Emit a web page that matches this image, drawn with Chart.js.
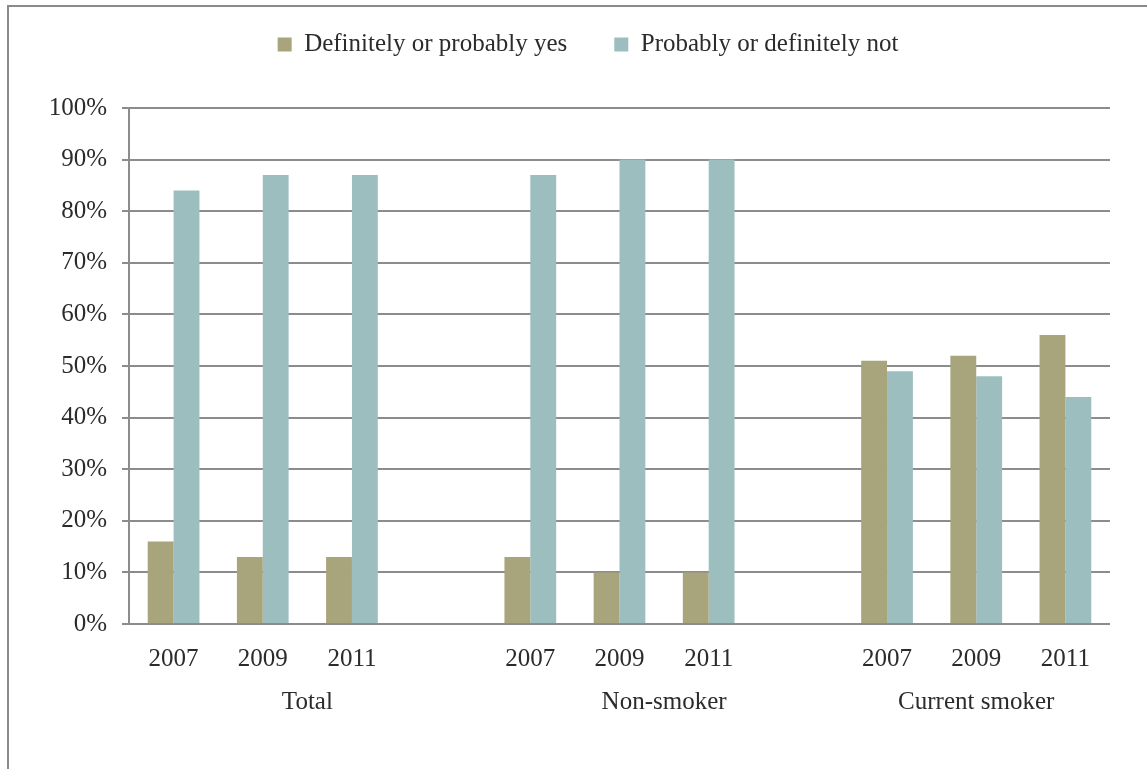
<!DOCTYPE html>
<html>
<head>
<meta charset="utf-8">
<script src="https://cdn.jsdelivr.net/npm/chart.js@4/dist/chart.umd.min.js"></script>
<style>
  html, body { margin: 0; padding: 0; background: #fff; overflow: hidden; }
  #frame { position: absolute; left: 7px; top: 5px; width: 1300px; height: 900px; border: 2px solid #8a8a8a; }
  #wrap { position: absolute; left: 0; top: 0; width: 1147px; height: 769px; }
</style>
</head>
<body>
<div id="frame"></div>
<div id="wrap"><canvas id="chart" width="1147" height="769"></canvas></div>
<script>
// categories (empty string = gap between groups)
const years = ["2007", "2009", "2011", "", "2007", "2009", "2011", "", "2007", "2009", "2011"];
const groupNames = ["Total", "Non-smoker", "Current smoker"];
// first and last category index each group label is centred over
const groupStart = [0, 4, 8];
const groupEnd = [3, 7, 10];

const seriesNames = ["Definitely or probably yes", "Probably or definitely not"];
const yesValues = [16, 13, 13, null, 13, 10, 10, null, 51, 52, 56];
const notValues = [84, 87, 87, null, 87, 90, 90, null, 49, 48, 44];

const yTicks = [0, 10, 20, 30, 40, 50, 60, 70, 80, 90, 100];

const fontFamily = "'Liberation Serif', 'DejaVu Serif', serif";
const fontSize = 25;
const textColor = "#2b2b2b";
const gridColor = "#8c8c8c";

const groupLabelPlugin = {
    id: "groupLabels",
    afterInit(chart) {
        // legend in v4 has no afterFit hook, so wrap fit() to leave room under it
        if (chart.legend) {
            const baseFit = Object.getPrototypeOf(chart.legend).fit;
            chart.legend.fit = function() {
                baseFit.call(this);
                this.height = 123;
            };
        }
    },
    // group names under the year labels
    afterDraw(chart) {
        const x = chart.scales.x;
        const ctx = chart.ctx;
        ctx.save();
        ctx.font = fontSize + "px " + fontFamily;
        ctx.fillStyle = textColor;
        ctx.textAlign = "center";
        ctx.textBaseline = "middle";
        for (let i = 0; i < groupNames.length; i++) {
            const mid = (x.getPixelForValue(groupStart[i]) + x.getPixelForValue(groupEnd[i])) / 2;
            ctx.fillText(groupNames[i], mid, chart.chartArea.bottom + 78);
        }
        ctx.restore();
    }
};

const ctx = document.getElementById("chart").getContext("2d");
window.barChart = new Chart(ctx, {
    type: "bar",
    data: {
        labels: years,
        datasets: [{
            label: seriesNames[0],
            data: yesValues,
            backgroundColor: "#a8a47b",
            categoryPercentage: 0.58,
            barPercentage: 1.0
        }, {
            label: seriesNames[1],
            data: notValues,
            backgroundColor: "#9dbebe",
            categoryPercentage: 0.58,
            barPercentage: 1.0
        }]
    },
    options: {
        responsive: false,
        animation: false,
        layout: {
            padding: { left: 30, right: 1, top: -15, bottom: 0 }
        },
        plugins: {
            legend: {
                display: true,
                position: "top",
                labels: {
                    boxWidth: 14,
                    boxHeight: 14,
                    padding: 47,
                    color: textColor,
                    font: { family: fontFamily, size: fontSize }
                }
            },
            tooltip: { enabled: false }
        },
        scales: {
            x: {
                grid: { display: false },
                border: { display: false },
                ticks: {
                    autoSkip: false,
                    maxRotation: 0,
                    padding: 12,
                    color: textColor,
                    font: { family: fontFamily, size: fontSize }
                },
                afterFit(scale) { scale.height = 145; }
            },
            y: {
                min: 0,
                max: 100,
                afterBuildTicks(scale) {
                    scale.ticks = yTicks.map(v => ({ value: v }));
                },
                grid: {
                    color: gridColor,
                    lineWidth: 2,
                    tickLength: 7,
                    drawTicks: true
                },
                border: { display: true, color: gridColor, width: 2 },
                ticks: {
                    padding: 15,
                    color: textColor,
                    font: { family: fontFamily, size: fontSize },
                    callback: function(value) { return value + "%"; }
                },
                afterFit(scale) { scale.width = 99; }
            },
            // empty axis on the right, only to keep the plot edge where it is
            yRight: {
                position: "right",
                display: true,
                grid: { display: false },
                border: { display: false },
                ticks: { display: false },
                afterFit(scale) { scale.width = 36; }
            }
        }
    },
    plugins: [groupLabelPlugin]
});
</script>
</body>
</html>
